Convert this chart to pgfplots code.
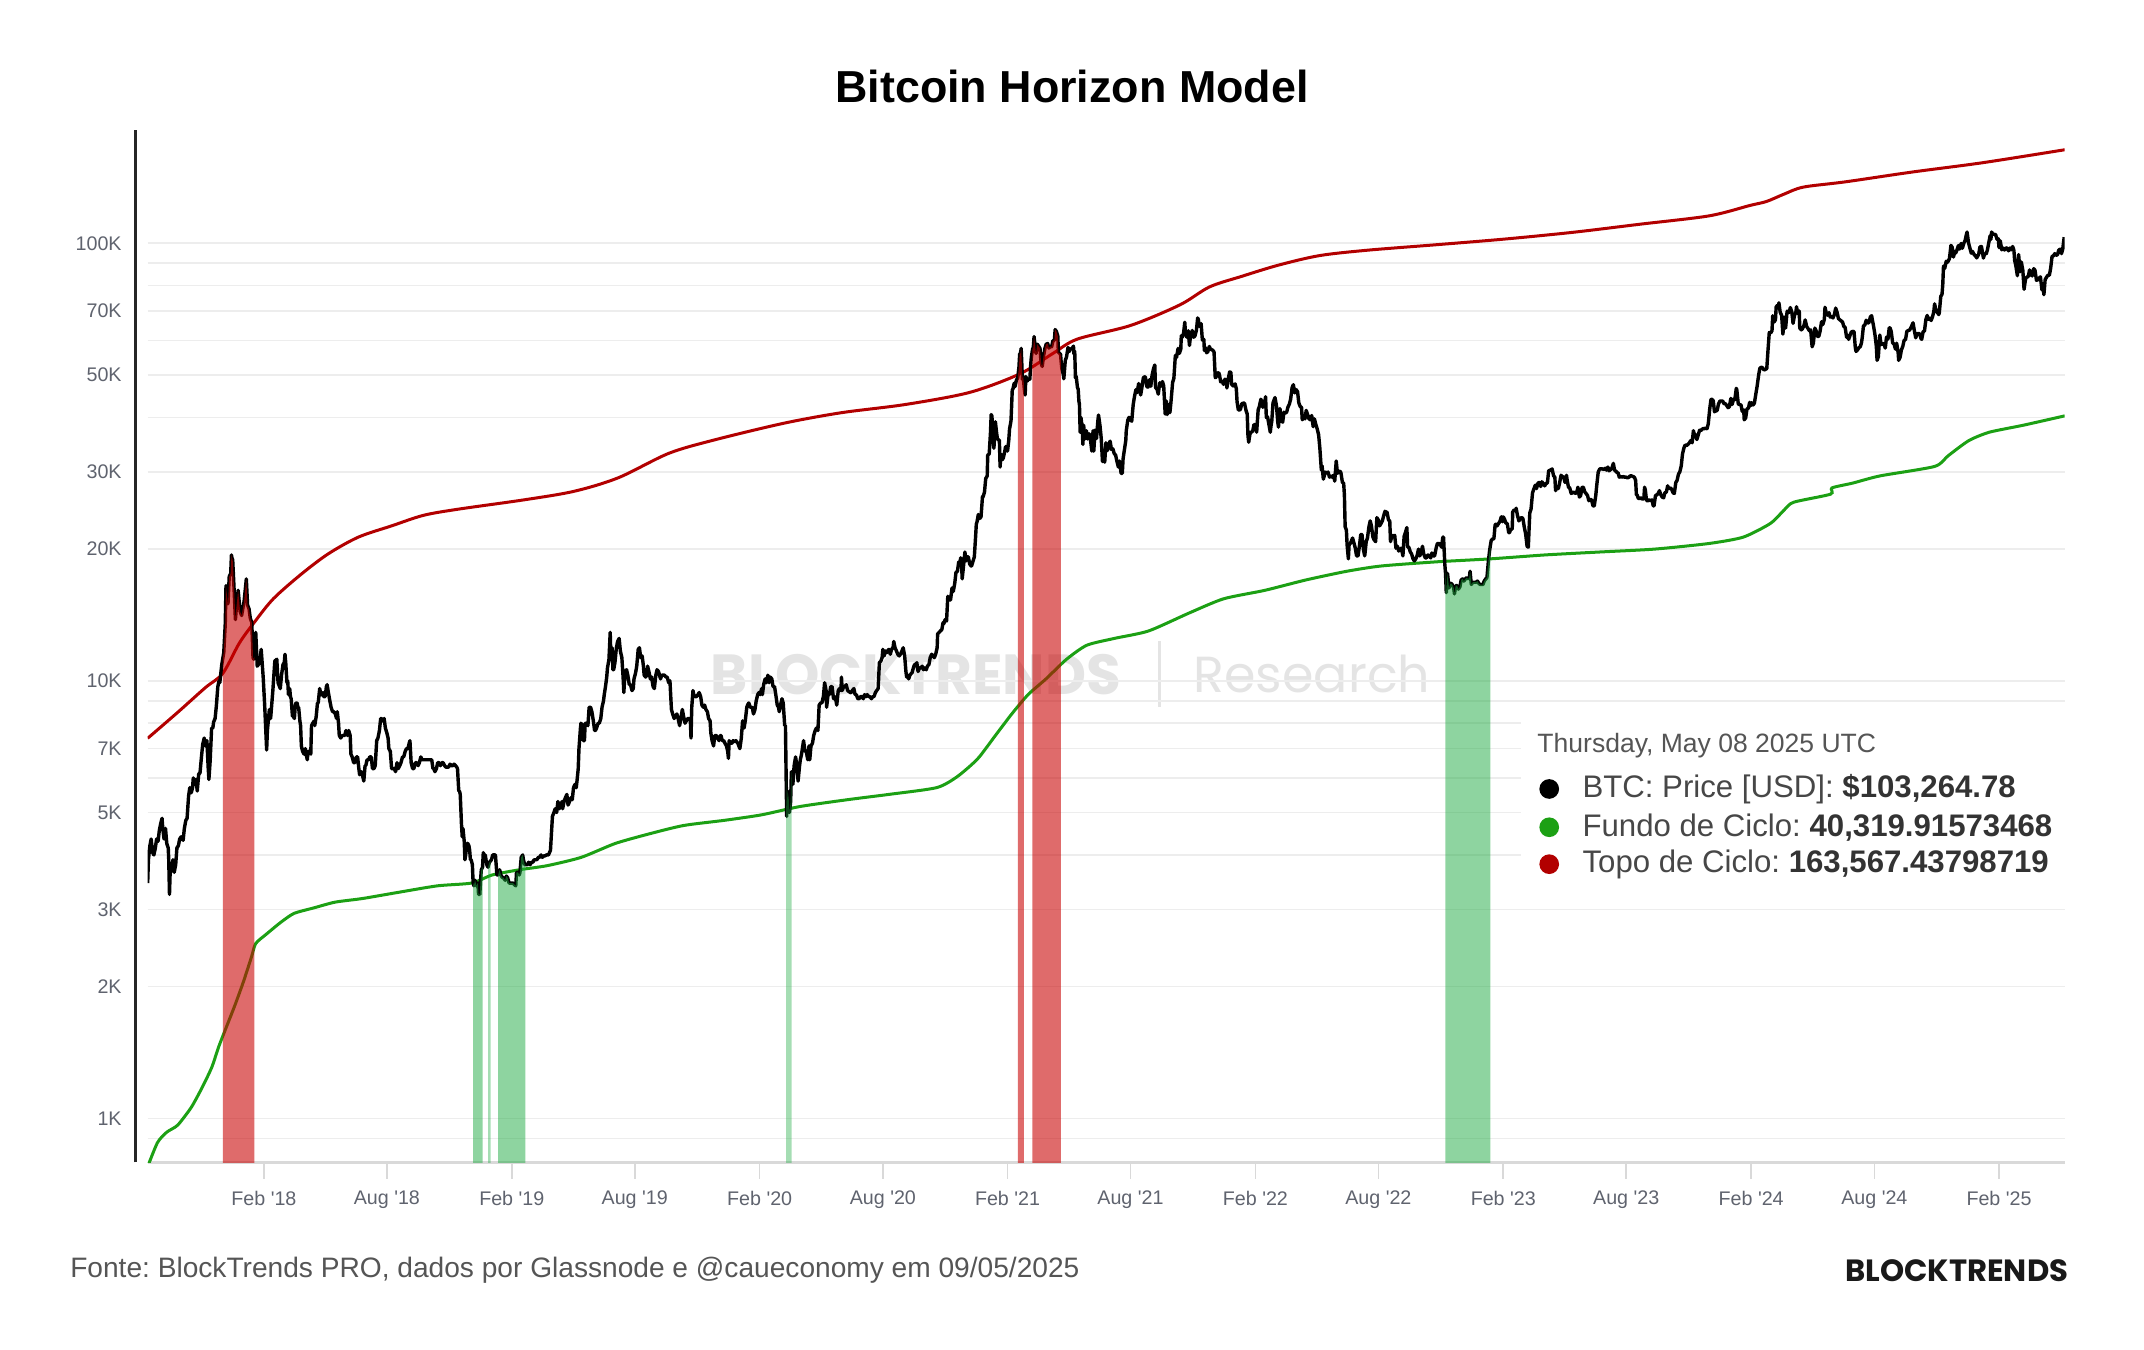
\documentclass[border=0pt]{standalone}
\usepackage{pgfplots}
\pgfplotsset{compat=1.18}
\usepackage{pgfplotstable}
\usepackage{fontspec}
\setmainfont{Liberation Sans}
\newfontfamily\pop{Poppins}
\frenchspacing
\definecolor{tickgray}{RGB}{95,99,110}
\definecolor{foot}{RGB}{85,85,85}
\definecolor{wm}{RGB}{228,228,228}
\definecolor{topo}{RGB}{178,0,0}
\definecolor{fundo}{RGB}{28,160,20}
\definecolor{bandred}{RGB}{200,0,0}
\definecolor{bandgreen}{RGB}{30,170,65}

\pgfplotstableread{
x y
2017.616 3450
2017.619 3900
2017.625 4200
2017.630 4350
2017.636 4050
2017.641 4000
2017.647 4150
2017.652 4350
2017.658 4300
2017.663 4550
2017.668 4700
2017.674 4850
2017.677 4600
2017.682 4350
2017.688 4600
2017.693 4250
2017.699 4150
2017.701 3900
2017.704 3250
2017.707 3700
2017.712 3680
2017.718 3900
2017.723 3650
2017.729 3800
2017.734 4150
2017.740 4200
2017.745 4350
2017.751 4400
2017.759 4320
2017.764 4600
2017.770 4800
2017.775 4850
2017.781 5450
2017.786 5700
2017.792 5550
2017.797 5700
2017.800 6000
2017.806 5800
2017.811 5950
2017.816 5600
2017.822 6130
2017.827 6150
2017.833 6700
2017.838 7150
2017.844 7400
2017.849 7100
2017.855 7300
2017.860 6350
2017.863 5950
2017.868 6550
2017.874 7800
2017.879 7800
2017.882 8050
2017.888 8200
2017.893 8750
2017.899 9700
2017.904 10000
2017.907 9900
2017.915 10900
2017.923 11600
2017.929 13500
2017.932 16500
2017.934 16000
2017.940 15000
2017.945 17300
2017.951 17600
2017.954 19400
2017.956 19100
2017.959 18900
2017.964 16500
2017.970 13800
2017.973 14500
2017.981 16100
2017.989 14400
2017.995 14100
2018.005 15200
2018.014 17100
2018.019 14900
2018.025 14600
2018.030 13900
2018.036 13600
2018.041 11300
2018.044 11200
2018.049 11600
2018.052 12900
2018.058 10800
2018.068 11000
2018.074 11800
2018.082 10200
2018.088 8800
2018.096 6950
2018.099 7700
2018.107 8600
2018.112 8200
2018.121 9500
2018.129 11100
2018.137 11200
2018.142 9900
2018.151 9600
2018.156 10300
2018.162 10900
2018.167 11000
2018.170 11500
2018.173 11000
2018.178 9900
2018.181 10000
2018.184 9300
2018.189 9600
2018.192 9200
2018.195 9100
2018.200 8300
2018.203 8300
2018.208 8200
2018.211 8700
2018.214 8900
2018.219 8900
2018.222 8700
2018.225 8700
2018.230 8100
2018.233 7900
2018.236 7100
2018.241 6900
2018.247 6800
2018.252 7000
2018.255 6800
2018.260 6600
2018.263 6900
2018.268 6900
2018.274 6800
2018.277 7900
2018.282 8000
2018.288 8100
2018.290 7900
2018.296 8300
2018.301 8900
2018.304 8900
2018.310 9600
2018.315 9300
2018.318 9300
2018.323 9400
2018.326 9200
2018.332 9200
2018.337 9700
2018.340 9800
2018.345 9400
2018.351 9000
2018.356 8700
2018.362 8500
2018.367 8500
2018.373 8400
2018.378 8200
2018.381 8500
2018.386 8000
2018.389 7500
2018.395 7400
2018.400 7500
2018.405 7500
2018.411 7500
2018.416 7700
2018.422 7500
2018.427 7700
2018.433 7500
2018.436 6800
2018.441 6700
2018.447 6500
2018.452 6500
2018.458 6700
2018.463 6700
2018.468 6300
2018.471 6100
2018.477 6200
2018.482 6100
2018.488 5900
2018.493 6400
2018.496 6400
2018.501 6600
2018.507 6600
2018.512 6700
2018.518 6700
2018.523 6300
2018.529 6300
2018.534 6400
2018.540 7300
2018.545 7400
2018.551 7700
2018.556 8200
2018.559 8200
2018.564 8100
2018.570 8200
2018.575 7800
2018.581 7600
2018.586 7400
2018.589 7000
2018.595 6900
2018.600 6300
2018.605 6300
2018.611 6300
2018.616 6200
2018.622 6500
2018.627 6300
2018.633 6400
2018.638 6500
2018.644 6700
2018.649 6700
2018.655 6900
2018.660 7000
2018.666 7000
2018.671 7200
2018.674 7300
2018.679 6500
2018.685 6300
2018.690 6300
2018.696 6500
2018.701 6500
2018.707 6400
2018.712 6500
2018.718 6700
2018.723 6600
2018.729 6600
2018.734 6600
2018.740 6600
2018.745 6600
2018.751 6600
2018.756 6600
2018.762 6600
2018.767 6300
2018.770 6300
2018.775 6200
2018.781 6300
2018.786 6500
2018.792 6500
2018.797 6400
2018.803 6500
2018.808 6500
2018.814 6400
2018.819 6350
2018.825 6350
2018.830 6350
2018.836 6450
2018.841 6400
2018.847 6400
2018.852 6450
2018.858 6400
2018.863 6350
2018.866 6300
2018.871 5600
2018.874 5600
2018.877 5500
2018.882 4700
2018.885 4400
2018.888 4600
2018.893 4300
2018.896 3900
2018.899 4000
2018.904 4250
2018.907 4250
2018.912 4200
2018.915 4100
2018.918 3900
2018.921 3900
2018.926 3800
2018.929 3450
2018.932 3400
2018.937 3500
2018.942 3400
2018.948 3450
2018.951 3250
2018.956 3250
2018.959 3500
2018.962 3700
2018.967 3750
2018.970 4050
2018.975 3900
2018.978 4000
2018.984 3800
2018.989 3750
2018.995 3850
2019.003 3900
2019.008 4000
2019.014 4000
2019.019 4000
2019.025 3600
2019.030 3600
2019.036 3700
2019.041 3600
2019.047 3550
2019.052 3550
2019.058 3500
2019.063 3580
2019.068 3550
2019.074 3450
2019.080 3450
2019.085 3450
2019.090 3450
2019.096 3420
2019.101 3400
2019.104 3650
2019.110 3650
2019.115 3600
2019.118 3650
2019.123 3950
2019.129 4000
2019.132 3900
2019.137 3800
2019.142 3800
2019.148 3800
2019.153 3850
2019.159 3800
2019.164 3850
2019.170 3850
2019.175 3900
2019.178 3900
2019.186 3900
2019.192 3950
2019.197 3950
2019.203 4000
2019.208 3950
2019.214 3980
2019.219 3980
2019.225 4000
2019.233 4000
2019.241 4100
2019.249 4900
2019.255 5000
2019.260 5100
2019.266 5000
2019.271 5300
2019.277 5100
2019.282 5200
2019.288 5300
2019.290 5100
2019.296 5300
2019.301 5400
2019.307 5500
2019.312 5200
2019.318 5300
2019.323 5400
2019.329 5350
2019.334 5700
2019.340 5800
2019.345 5700
2019.348 5900
2019.353 6300
2019.356 7000
2019.362 7800
2019.364 8000
2019.370 7900
2019.373 7300
2019.378 7300
2019.381 8000
2019.386 8000
2019.392 7900
2019.397 8700
2019.403 8700
2019.408 8500
2019.414 8100
2019.419 7700
2019.422 7700
2019.427 7800
2019.433 8000
2019.438 8000
2019.444 8200
2019.449 8700
2019.455 9000
2019.458 9300
2019.463 9700
2019.468 10200
2019.471 10700
2019.477 11200
2019.482 12900
2019.485 11200
2019.490 11900
2019.493 10600
2019.496 10600
2019.501 11000
2019.507 11900
2019.512 12300
2019.518 12500
2019.523 11700
2019.529 11300
2019.534 10200
2019.537 9400
2019.542 10500
2019.548 10600
2019.553 10300
2019.559 9800
2019.564 9800
2019.570 9500
2019.575 9600
2019.578 10100
2019.584 10400
2019.589 10800
2019.595 11800
2019.600 11900
2019.605 11300
2019.611 11400
2019.616 10800
2019.619 10300
2019.625 10200
2019.630 10300
2019.633 10800
2019.638 10500
2019.644 10100
2019.649 10200
2019.655 9700
2019.660 9600
2019.666 10300
2019.671 10600
2019.677 10500
2019.679 10400
2019.685 10100
2019.690 10300
2019.696 10300
2019.701 10300
2019.707 10200
2019.712 10200
2019.718 9900
2019.723 10000
2019.729 8600
2019.734 8400
2019.740 8200
2019.745 8300
2019.751 8400
2019.756 8200
2019.762 7900
2019.767 8200
2019.773 8600
2019.778 8300
2019.784 8000
2019.789 8100
2019.795 8200
2019.800 8200
2019.805 8200
2019.808 7400
2019.811 8700
2019.816 9500
2019.819 9300
2019.825 9200
2019.830 9200
2019.836 9300
2019.841 9400
2019.847 9200
2019.852 8800
2019.858 8700
2019.863 8800
2019.868 8600
2019.874 8500
2019.879 8200
2019.885 8100
2019.888 7600
2019.893 7300
2019.899 7100
2019.904 7500
2019.910 7500
2019.915 7400
2019.921 7300
2019.926 7500
2019.929 7500
2019.934 7300
2019.940 7300
2019.945 7200
2019.951 7100
2019.956 6900
2019.959 6650
2019.962 7300
2019.967 7200
2019.973 7200
2019.978 7300
2019.984 7250
2019.989 7300
2019.997 7200
2020.005 7000
2020.011 7400
2020.016 8100
2020.022 7800
2020.027 8100
2020.033 8700
2020.036 8800
2020.041 8900
2020.047 8700
2020.049 8700
2020.055 8700
2020.060 8400
2020.066 8600
2020.071 9000
2020.077 9300
2020.082 9400
2020.087 9300
2020.093 9600
2020.096 9300
2020.101 9800
2020.107 10100
2020.112 9900
2020.118 10300
2020.123 9900
2020.128 10200
2020.134 10100
2020.139 9700
2020.145 9700
2020.150 9300
2020.156 8800
2020.161 8700
2020.164 8500
2020.169 8800
2020.175 9100
2020.180 8900
2020.186 7900
2020.189 7900
2020.194 4900
2020.197 5600
2020.202 5400
2020.205 5000
2020.210 5300
2020.213 6200
2020.219 5800
2020.224 6400
2020.230 6700
2020.235 6400
2020.240 5900
2020.246 6400
2020.249 6600
2020.254 6800
2020.262 7300
2020.268 6900
2020.273 6900
2020.279 6600
2020.284 7100
2020.287 6600
2020.292 7100
2020.298 7200
2020.303 7500
2020.309 7700
2020.314 7800
2020.320 7700
2020.325 8800
2020.331 8900
2020.336 8900
2020.342 9200
2020.347 9900
2020.353 9500
2020.355 8700
2020.361 9300
2020.366 9300
2020.372 9700
2020.377 9700
2020.383 9100
2020.388 9200
2020.393 9000
2020.396 8800
2020.402 9500
2020.407 9600
2020.413 9500
2020.415 10200
2020.418 9500
2020.424 9700
2020.429 9700
2020.434 9800
2020.440 9500
2020.445 9450
2020.451 9400
2020.454 9400
2020.459 9500
2020.465 9600
2020.470 9300
2020.475 9300
2020.481 9100
2020.486 9100
2020.492 9200
2020.497 9200
2020.503 9100
2020.508 9300
2020.514 9200
2020.519 9300
2020.525 9200
2020.530 9200
2020.536 9100
2020.541 9200
2020.546 9200
2020.552 9400
2020.557 9500
2020.563 9600
2020.568 11000
2020.574 11100
2020.579 11300
2020.582 11800
2020.587 11400
2020.593 11700
2020.598 11600
2020.601 11700
2020.606 11800
2020.612 11500
2020.617 11800
2020.623 11900
2020.626 12300
2020.631 11900
2020.637 11700
2020.642 11500
2020.648 11400
2020.653 11500
2020.659 11700
2020.664 11900
2020.670 11400
2020.675 10500
2020.678 10200
2020.683 10300
2020.686 10100
2020.691 10300
2020.697 10400
2020.699 10400
2020.705 10700
2020.710 10900
2020.716 10900
2020.719 11000
2020.724 10500
2020.730 10700
2020.735 10700
2020.741 10800
2020.746 10600
2020.751 10700
2020.757 10600
2020.762 10800
2020.768 10900
2020.773 11300
2020.779 11500
2020.784 11400
2020.790 11300
2020.795 11500
2020.801 11900
2020.803 12800
2020.809 12900
2020.814 13000
2020.820 13100
2020.825 13600
2020.828 13500
2020.833 13800
2020.839 13700
2020.844 15600
2020.850 15300
2020.855 15300
2020.861 16300
2020.866 16000
2020.872 16700
2020.877 17700
2020.883 17800
2020.888 18700
2020.891 18400
2020.896 19100
2020.899 18800
2020.902 17100
2020.907 18200
2020.913 19700
2020.918 18800
2020.921 19200
2020.927 19200
2020.932 18500
2020.938 18300
2020.940 18300
2020.946 18800
2020.951 19200
2020.956 21300
2020.959 22800
2020.962 23100
2020.967 24000
2020.973 23500
2020.978 23700
2020.984 26400
2020.986 26300
2020.992 27000
2020.997 29000
2021.003 29400
2021.005 32800
2021.011 33000
2021.016 36800
2021.019 40600
2021.022 40300
2021.027 35500
2021.030 34000
2021.036 39100
2021.041 36800
2021.044 35800
2021.049 35500
2021.052 35500
2021.055 30800
2021.058 33000
2021.063 32000
2021.068 32300
2021.074 33500
2021.077 34300
2021.082 34300
2021.085 33500
2021.090 35500
2021.093 37600
2021.099 39300
2021.104 46200
2021.107 46500
2021.112 47900
2021.115 47000
2021.121 48700
2021.126 49200
2021.131 52100
2021.134 55900
2021.137 56000
2021.140 57500
2021.142 54000
2021.145 48800
2021.148 49700
2021.153 46300
2021.156 45000
2021.159 49600
2021.164 48400
2021.170 49000
2021.175 48900
2021.178 52400
2021.181 54900
2021.186 57300
2021.189 57800
2021.192 61200
2021.195 59000
2021.200 56000
2021.205 58800
2021.211 58100
2021.216 57500
2021.219 54500
2021.222 52800
2021.225 52300
2021.230 55100
2021.236 57600
2021.241 58800
2021.247 59000
2021.252 57600
2021.258 58100
2021.263 58000
2021.268 59900
2021.274 60000
2021.277 63500
2021.282 62900
2021.288 61300
2021.290 56200
2021.293 56200
2021.299 55700
2021.301 53800
2021.304 51700
2021.310 50100
2021.312 49000
2021.318 54000
2021.323 55000
2021.329 57800
2021.334 56600
2021.340 57400
2021.345 57400
2021.351 58200
2021.353 55800
2021.356 56700
2021.359 49200
2021.362 49700
2021.367 46800
2021.370 46400
2021.373 43500
2021.375 42900
2021.378 37000
2021.381 40000
2021.386 38000
2021.389 34700
2021.392 38400
2021.397 35700
2021.403 37300
2021.408 35700
2021.414 36700
2021.419 35800
2021.425 33500
2021.430 37300
2021.433 33500
2021.438 37400
2021.444 35800
2021.449 39100
2021.452 40500
2021.458 38300
2021.463 35800
2021.468 31700
2021.471 32500
2021.477 31600
2021.482 35000
2021.488 33600
2021.493 34700
2021.499 35300
2021.504 33800
2021.510 33900
2021.515 33100
2021.521 32800
2021.526 31800
2021.532 30800
2021.537 31800
2021.543 29800
2021.548 29800
2021.551 32100
2021.556 33600
2021.562 35400
2021.564 37300
2021.570 39400
2021.575 40000
2021.581 39500
2021.586 39200
2021.592 42800
2021.597 44600
2021.603 46300
2021.608 45600
2021.614 47800
2021.616 47000
2021.622 45000
2021.627 46800
2021.633 49300
2021.638 49500
2021.641 49500
2021.647 47000
2021.652 46900
2021.658 48800
2021.663 47100
2021.668 49900
2021.674 51700
2021.679 52700
2021.682 46800
2021.688 46400
2021.693 45200
2021.699 48000
2021.704 47100
2021.710 48300
2021.715 47200
2021.721 40700
2021.726 43600
2021.729 40600
2021.734 42800
2021.740 41000
2021.745 43800
2021.751 48100
2021.756 49100
2021.762 55400
2021.767 54900
2021.773 57500
2021.778 56000
2021.784 57300
2021.786 61500
2021.789 60900
2021.795 62200
2021.800 66000
2021.803 62200
2021.808 61000
2021.814 63100
2021.819 58400
2021.822 60600
2021.825 61300
2021.830 63200
2021.836 61000
2021.841 61400
2021.847 63300
2021.852 67500
2021.855 66900
2021.858 65000
2021.863 64400
2021.866 65500
2021.871 60100
2021.877 60300
2021.879 56900
2021.885 57600
2021.888 56200
2021.893 56500
2021.899 58100
2021.904 57200
2021.907 57200
2021.912 57000
2021.918 56500
2021.923 49300
2021.926 49400
2021.932 50500
2021.937 50600
2021.940 50000
2021.945 48200
2021.951 48400
2021.956 47600
2021.962 48900
2021.967 48600
2021.970 46700
2021.975 48900
2021.981 50800
2021.986 50700
2021.989 47600
2021.995 47200
2022.003 47700
2022.008 46500
2022.011 43400
2022.016 41600
2022.022 41600
2022.025 41800
2022.030 43000
2022.036 43100
2022.041 43100
2022.047 41500
2022.052 40700
2022.055 36300
2022.058 35100
2022.063 36700
2022.068 37000
2022.074 37200
2022.079 38500
2022.085 38500
2022.090 37000
2022.096 41600
2022.101 42400
2022.107 44000
2022.110 43600
2022.115 42200
2022.121 42600
2022.126 44600
2022.129 40000
2022.134 40100
2022.140 38400
2022.145 37000
2022.148 38300
2022.151 39200
2022.156 43200
2022.164 44400
2022.170 42500
2022.175 39100
2022.178 38000
2022.184 41900
2022.189 39400
2022.195 39000
2022.200 41100
2022.205 40900
2022.211 41100
2022.216 42200
2022.222 42900
2022.227 44000
2022.233 46800
2022.238 47500
2022.244 45500
2022.249 46300
2022.255 45800
2022.260 43200
2022.266 42300
2022.271 42200
2022.274 39500
2022.279 40100
2022.285 39700
2022.290 41500
2022.296 40500
2022.301 39700
2022.307 39500
2022.312 40400
2022.318 38100
2022.323 39700
2022.329 38500
2022.334 37700
2022.340 36500
2022.345 34000
2022.351 30300
2022.354 31000
2022.359 28900
2022.362 29300
2022.367 30000
2022.373 29800
2022.378 30000
2022.384 29200
2022.389 29400
2022.395 29200
2022.400 29500
2022.405 28600
2022.411 31800
2022.416 29800
2022.422 30100
2022.427 30100
2022.430 29900
2022.436 28400
2022.441 28300
2022.444 26600
2022.447 22500
2022.452 22100
2022.455 20400
2022.460 19000
2022.463 20500
2022.468 20600
2022.474 21000
2022.477 21200
2022.482 20700
2022.488 20100
2022.493 19300
2022.499 19300
2022.504 20200
2022.510 21600
2022.515 21600
2022.521 19900
2022.526 19300
2022.532 20800
2022.537 21200
2022.543 22500
2022.548 23200
2022.553 22600
2022.559 21300
2022.564 21000
2022.570 20800
2022.575 23600
2022.581 23300
2022.586 22600
2022.592 22900
2022.597 23200
2022.603 23900
2022.608 24400
2022.614 24300
2022.616 24300
2022.622 23300
2022.627 23200
2022.630 20800
2022.636 21500
2022.641 21400
2022.647 21500
2022.652 20100
2022.658 20300
2022.663 19800
2022.669 20000
2022.674 20100
2022.680 19300
2022.685 21400
2022.690 21800
2022.696 22400
2022.699 20200
2022.704 20200
2022.710 19700
2022.715 19500
2022.721 19000
2022.726 18800
2022.732 19000
2022.737 19300
2022.743 20000
2022.748 19300
2022.753 19600
2022.759 20300
2022.764 19500
2022.770 19100
2022.775 19100
2022.781 19400
2022.786 19300
2022.792 19100
2022.797 19600
2022.803 19300
2022.808 19300
2022.814 20100
2022.819 20600
2022.825 20600
2022.830 20500
2022.836 20200
2022.841 21300
2022.844 21300
2022.849 18500
2022.852 17600
2022.855 15900
2022.860 17600
2022.866 16300
2022.870 16600
2022.874 16700
2022.879 16600
2022.885 16300
2022.888 15800
2022.893 16500
2022.899 16500
2022.904 16200
2022.910 16400
2022.915 17000
2022.921 17100
2022.926 16900
2022.932 17100
2022.937 17200
2022.943 17100
2022.948 17200
2022.951 17800
2022.956 16600
2022.962 16800
2022.967 16800
2022.970 16800
2022.975 16800
2022.981 16900
2022.986 16700
2022.992 16600
2022.995 16600
2023.003 16600
2023.008 16900
2023.014 17100
2023.019 17200
2023.025 18800
2023.030 19900
2023.036 20900
2023.041 21100
2023.047 21100
2023.052 22700
2023.055 22800
2023.060 22600
2023.066 22900
2023.071 23100
2023.077 23700
2023.082 23100
2023.085 23700
2023.090 23400
2023.096 22900
2023.101 22900
2023.107 21800
2023.110 21800
2023.115 22200
2023.121 22200
2023.123 24300
2023.129 24600
2023.134 24500
2023.137 24800
2023.142 23900
2023.148 23200
2023.153 23500
2023.159 23600
2023.164 23500
2023.170 22400
2023.175 21700
2023.181 20300
2023.186 20200
2023.189 22200
2023.192 24200
2023.197 24700
2023.203 26900
2023.208 27400
2023.214 28000
2023.219 27500
2023.225 28300
2023.230 28400
2023.236 27800
2023.241 28500
2023.247 28200
2023.252 27900
2023.258 28300
2023.263 28300
2023.268 30200
2023.274 30300
2023.279 30400
2023.282 30500
2023.288 29400
2023.293 29200
2023.296 27200
2023.301 27800
2023.307 27500
2023.312 28300
2023.318 29500
2023.323 29300
2023.329 29200
2023.334 28400
2023.340 29500
2023.342 28900
2023.348 27700
2023.353 27600
2023.359 26800
2023.364 26900
2023.370 27000
2023.375 26800
2023.381 26900
2023.386 27700
2023.392 26300
2023.397 26500
2023.403 27700
2023.408 27700
2023.414 27000
2023.419 26800
2023.425 26500
2023.430 25800
2023.436 26000
2023.441 25900
2023.447 25100
2023.452 25100
2023.458 26500
2023.463 28300
2023.468 30000
2023.474 30500
2023.479 30500
2023.485 30500
2023.490 30400
2023.496 30600
2023.501 30300
2023.507 30800
2023.512 30200
2023.518 30400
2023.523 30600
2023.529 31400
2023.534 30300
2023.540 30100
2023.545 29900
2023.548 29900
2023.553 29200
2023.559 29300
2023.564 29200
2023.570 29300
2023.575 29200
2023.581 29200
2023.586 29100
2023.592 29200
2023.597 29400
2023.603 29400
2023.608 29300
2023.614 29200
2023.619 28700
2023.622 26600
2023.625 26600
2023.630 26100
2023.636 26100
2023.641 26200
2023.647 26000
2023.652 26100
2023.655 27700
2023.658 27300
2023.663 25800
2023.669 25800
2023.674 25900
2023.680 25800
2023.685 25900
2023.690 25100
2023.693 25100
2023.699 26500
2023.704 26600
2023.710 26800
2023.715 27200
2023.721 26600
2023.726 26300
2023.732 26200
2023.737 26900
2023.743 27000
2023.748 27900
2023.753 27500
2023.759 27600
2023.764 27400
2023.770 26900
2023.775 26800
2023.781 28400
2023.786 28700
2023.792 29700
2023.797 30000
2023.803 31000
2023.808 33000
2023.814 34100
2023.819 34600
2023.825 34500
2023.830 34700
2023.836 35000
2023.841 35400
2023.847 35000
2023.852 37300
2023.855 36700
2023.860 36500
2023.866 35600
2023.871 36400
2023.877 37400
2023.882 37300
2023.885 37500
2023.890 37700
2023.896 37700
2023.901 37800
2023.907 37700
2023.912 38700
2023.918 41900
2023.923 44000
2023.926 44000
2023.932 43700
2023.937 41200
2023.943 41400
2023.948 41500
2023.953 42900
2023.959 43600
2023.964 43600
2023.970 43600
2023.975 43000
2023.981 43000
2023.986 42600
2023.992 42100
2023.997 42300
2024.003 44200
2024.008 42800
2024.014 44000
2024.019 43900
2024.025 46600
2024.027 46300
2024.033 42900
2024.038 42800
2024.044 42700
2024.049 41300
2024.055 41600
2024.057 39500
2024.063 39900
2024.068 41800
2024.074 42000
2024.079 43300
2024.082 42500
2024.087 43200
2024.093 42700
2024.098 43100
2024.104 45300
2024.109 47100
2024.115 49900
2024.120 51800
2024.126 52100
2024.131 51900
2024.137 51300
2024.142 51500
2024.148 51700
2024.153 57000
2024.158 62500
2024.164 62400
2024.169 63100
2024.172 68300
2024.178 66100
2024.183 66900
2024.186 71600
2024.191 72100
2024.194 71500
2024.197 73100
2024.202 69600
2024.208 68400
2024.213 62000
2024.219 67800
2024.224 64000
2024.230 69900
2024.232 70000
2024.238 69500
2024.243 71300
2024.249 69700
2024.254 65600
2024.260 68500
2024.265 69300
2024.268 71600
2024.273 69100
2024.279 70000
2024.281 64000
2024.287 63400
2024.292 63800
2024.298 64900
2024.303 66800
2024.309 64500
2024.314 63900
2024.320 63100
2024.325 63400
2024.328 60600
2024.331 58000
2024.336 59100
2024.342 64000
2024.347 63100
2024.352 61200
2024.358 61300
2024.363 62900
2024.369 66200
2024.374 65200
2024.380 66900
2024.383 71400
2024.388 69200
2024.393 68500
2024.399 69400
2024.404 67800
2024.410 68000
2024.415 67500
2024.421 68800
2024.426 71100
2024.432 69400
2024.437 67300
2024.443 66800
2024.448 66500
2024.454 66000
2024.459 64500
2024.464 64300
2024.470 61000
2024.475 61500
2024.478 60300
2024.484 61600
2024.489 62700
2024.495 62900
2024.500 62800
2024.505 57900
2024.508 56600
2024.514 57000
2024.519 57700
2024.525 58000
2024.530 59200
2024.533 60800
2024.538 64700
2024.544 65100
2024.549 66700
2024.555 65800
2024.560 65800
2024.566 67900
2024.571 68300
2024.574 66800
2024.579 64600
2024.585 61500
2024.590 58100
2024.593 54000
2024.598 55000
2024.604 61700
2024.609 58700
2024.615 58900
2024.620 59000
2024.626 57600
2024.631 61000
2024.637 60400
2024.642 64100
2024.645 64100
2024.650 62900
2024.656 59100
2024.661 59000
2024.667 57300
2024.672 59100
2024.678 56200
2024.680 54000
2024.686 54900
2024.691 57000
2024.697 58200
2024.702 60000
2024.708 60300
2024.713 62900
2024.719 63200
2024.724 63300
2024.730 64200
2024.735 65200
2024.738 65800
2024.743 63300
2024.749 60800
2024.754 62100
2024.760 62200
2024.765 62100
2024.770 60600
2024.773 60300
2024.779 62900
2024.784 62900
2024.790 67000
2024.795 68400
2024.800 67000
2024.806 67400
2024.811 66600
2024.817 68000
2024.822 69900
2024.825 72700
2024.831 70200
2024.836 69500
2024.842 68700
2024.844 69400
2024.850 75600
2024.855 76500
2024.858 80500
2024.861 88700
2024.866 87600
2024.872 91000
2024.877 90500
2024.880 91000
2024.885 92300
2024.891 98900
2024.896 97900
2024.901 93000
2024.907 95800
2024.910 95000
2024.915 96400
2024.921 98800
2024.926 97000
2024.932 99900
2024.937 97400
2024.943 100000
2024.948 101400
2024.953 104500
2024.956 106100
2024.962 100200
2024.967 97700
2024.973 94900
2024.978 95800
2024.984 94300
2024.989 93700
2024.995 92600
2025.003 94400
2025.008 98100
2025.014 98300
2025.016 96900
2025.022 92500
2025.027 94700
2025.033 94500
2025.038 96500
2025.044 100500
2025.049 104100
2025.052 102000
2025.055 106100
2025.060 104900
2025.066 104800
2025.071 104700
2025.077 102100
2025.082 102400
2025.085 97700
2025.090 101300
2025.096 96600
2025.101 97500
2025.107 96500
2025.112 97400
2025.118 97600
2025.123 96100
2025.129 97500
2025.134 96600
2025.140 98300
2025.145 96300
2025.148 91400
2025.153 88700
2025.159 84300
2025.164 94200
2025.170 86100
2025.175 90600
2025.181 86700
2025.186 78500
2025.192 82900
2025.197 83700
2025.203 83900
2025.208 86900
2025.214 85200
2025.219 84200
2025.225 87500
2025.230 86800
2025.236 82300
2025.241 82500
2025.247 83200
2025.252 83800
2025.258 78300
2025.263 79200
2025.266 76300
2025.271 82600
2025.277 83700
2025.282 84500
2025.288 84500
2025.293 87500
2025.299 93400
2025.304 93500
2025.310 94700
2025.315 93800
2025.321 94200
2025.326 96500
2025.332 96900
2025.337 94700
2025.342 97000
2025.348 103265
}\price

\pgfplotstableread{
x y
2017.616 7390
2017.737 8470
2017.848 9640
2017.919 10400
2017.986 12200
2018.046 13600
2018.123 15400
2018.234 17500
2018.344 19500
2018.466 21300
2018.600 22600
2018.730 23900
2018.874 24700
2019.131 25900
2019.335 27100
2019.514 29100
2019.718 33100
2019.900 35500
2020.183 38800
2020.415 41000
2020.672 42800
2020.931 45600
2021.135 50300
2021.268 56000
2021.367 60400
2021.582 64900
2021.780 72300
2021.900 79500
2022.029 84000
2022.177 89100
2022.343 93700
2022.536 96400
2022.812 99200
2023.088 102200
2023.364 105900
2023.640 110600
2023.915 115500
2024.080 122000
2024.147 124600
2024.219 129600
2024.296 134400
2024.467 138200
2024.732 145400
2025.019 152800
2025.350 163567
}\topo

\pgfplotstableread{
x y
2017.610 760
2017.655 879
2017.693 930
2017.737 965
2017.792 1060
2017.837 1180
2017.875 1310
2017.903 1460
2017.936 1630
2017.969 1820
2018.002 2050
2018.035 2340
2018.052 2510
2018.096 2640
2018.151 2800
2018.206 2940
2018.289 3030
2018.372 3120
2018.482 3180
2018.620 3280
2018.785 3400
2018.923 3450
2019.006 3600
2019.116 3700
2019.227 3780
2019.365 3950
2019.503 4250
2019.640 4470
2019.778 4670
2019.944 4800
2020.093 4940
2020.247 5160
2020.440 5350
2020.606 5500
2020.799 5700
2020.882 6040
2020.964 6630
2021.036 7500
2021.102 8400
2021.168 9300
2021.240 10100
2021.323 11200
2021.405 12060
2021.516 12500
2021.654 13000
2021.819 14300
2021.957 15400
2022.123 16100
2022.288 17000
2022.454 17800
2022.592 18300
2022.812 18700
2023.033 19000
2023.254 19400
2023.474 19700
2023.695 20000
2023.915 20600
2024.053 21300
2024.163 22900
2024.219 24600
2024.257 25600
2024.405 26700
2024.411 27600
2024.494 28300
2024.605 29400
2024.825 30900
2024.880 32700
2024.963 35400
2025.046 37000
2025.184 38400
2025.350 40320
}\fundo

\begin{document}
\begin{tikzpicture}[x=1pt,y=1pt]
\useasboundingbox (0,0) rectangle (784,493.5);
% watermark
\node[text=wm, inner sep=0] at (335,247) {\resizebox{150pt}{!}{\pop\bfseries BLOCKTRENDS}};
\draw[wm, line width=0.8pt] (424,235) -- (424,259);
\node[text=wm, inner sep=0] at (479.75,247) {\resizebox{86.5pt}{!}{\pop Research}};

\begin{axis}[
  at={(54pt,68.5pt)}, anchor=south west,
  scale only axis, width=701pt, height=377.5pt,
  xmin=2017.616, xmax=2025.35,
  ymode=log, ymin=794, ymax=181600,
  xtick={2018.085,2018.581,2019.085,2019.581,2020.085,2020.582,2021.085,2021.581,2022.085,2022.581,2023.085,2023.581,2024.085,2024.582,2025.085},
  xticklabels={Feb \textquotesingle18,Aug \textquotesingle18,Feb \textquotesingle19,Aug \textquotesingle19,Feb \textquotesingle20,Aug \textquotesingle20,Feb \textquotesingle21,Aug \textquotesingle21,Feb \textquotesingle22,Aug \textquotesingle22,Feb \textquotesingle23,Aug \textquotesingle23,Feb \textquotesingle24,Aug \textquotesingle24,Feb \textquotesingle25},
  ytick={900,1000,2000,3000,4000,5000,6000,7000,8000,9000,10000,20000,30000,40000,50000,60000,70000,80000,90000,100000},
  yticklabels={,1K,2K,3K,,5K,,7K,,,10K,20K,30K,,50K,,70K,,,100K},
  yminorticks=false, xminorticks=false,
  ymajorgrids, major grid style={color=black!7, line width=0.6pt},
  axis x line*=bottom, axis y line*=left,
  y axis line style={draw=none},
  x axis line style={draw=black!15, line width=1.2pt},
  xtick align=outside, major tick length=6pt,
  xtick style={draw=black!15, line width=0.6pt},
  ytick style={draw=none},
  tick label style={font=\fontsize{7.2}{8}\selectfont, text=tickgray},
  yticklabel style={xshift=-6pt},
  xticklabel style={yshift=-1pt},
  /pgf/number format/assume math mode=true,
]
\addplot[topo, line width=1.1pt, smooth, tension=0.5] table {\topo};
\addplot[fundo, line width=1.1pt, smooth, tension=0.4] table {\fundo};
\addplot[black, line width=1.25pt, line join=round] table {\price};
% bands (price above Topo / below Fundo)
\addplot[draw=none, fill=bandred, fill opacity=0.58] coordinates {
(2017.919,100) (2017.919,11250) (2017.923,11600) (2017.929,13500) (2017.932,16500) (2017.934,16000) (2017.940,15000) (2017.945,17300) (2017.951,17600) (2017.954,19400) (2017.956,19100) (2017.959,18900) (2017.964,16500) (2017.970,13800) (2017.973,14500) (2017.981,16100) (2017.989,14400) (2017.995,14100) (2018.005,15200) (2018.014,17100) (2018.019,14900) (2018.025,14600) (2018.030,13900) (2018.036,13600) (2018.041,11300) (2018.044,11200) (2018.046,11350) (2018.046,100)} -- cycle;
\addplot[draw=none, fill=bandgreen, fill opacity=0.5] coordinates {
(2018.929,100) (2018.929,3450) (2018.932,3400) (2018.937,3500) (2018.942,3400) (2018.948,3450) (2018.951,3250) (2018.956,3250) (2018.959,3500) (2018.962,3700) (2018.967,3750) (2018.967,100)} -- cycle;
\addplot[draw=none, fill=bandgreen, fill opacity=0.4] coordinates {
(2018.989,100) (2018.989,3750) (2018.995,3850) (2019.0,3870) (2019.0,100)} -- cycle;
\addplot[draw=none, fill=bandgreen, fill opacity=0.5] coordinates {
(2019.030,100) (2019.030,3600) (2019.036,3700) (2019.041,3600) (2019.047,3550) (2019.052,3550) (2019.058,3500) (2019.063,3580) (2019.068,3550) (2019.074,3450) (2019.080,3450) (2019.085,3450) (2019.090,3450) (2019.096,3420) (2019.101,3400) (2019.104,3650) (2019.110,3650) (2019.115,3600) (2019.118,3650) (2019.123,3950) (2019.129,4000) (2019.132,3900) (2019.137,3800) (2019.140,3800) (2019.140,100)} -- cycle;
\addplot[draw=none, fill=bandgreen, fill opacity=0.4] coordinates {
(2020.192,100) (2020.192,6100) (2020.194,4900) (2020.197,5600) (2020.202,5400) (2020.205,5000) (2020.210,5300) (2020.213,6200) (2020.214,6130) (2020.214,100)} -- cycle;
\addplot[draw=none, fill=bandred, fill opacity=0.58] coordinates {
(2021.127,100) (2021.127,49800) (2021.131,52100) (2021.134,55900) (2021.137,56000) (2021.140,57500) (2021.142,54000) (2021.145,48800) (2021.148,49700) (2021.151,47700) (2021.151,100)} -- cycle;
\addplot[draw=none, fill=bandred, fill opacity=0.58] coordinates {
(2021.185,100) (2021.185,56800) (2021.186,57300) (2021.189,57800) (2021.192,61200) (2021.195,59000) (2021.200,56000) (2021.205,58800) (2021.211,58100) (2021.216,57500) (2021.219,54500) (2021.222,52800) (2021.225,52300) (2021.230,55100) (2021.236,57600) (2021.241,58800) (2021.247,59000) (2021.252,57600) (2021.258,58100) (2021.263,58000) (2021.268,59900) (2021.274,60000) (2021.277,63500) (2021.282,62900) (2021.288,61300) (2021.290,56200) (2021.293,56200) (2021.299,55700) (2021.300,55000) (2021.300,100)} -- cycle;
\addplot[draw=none, fill=bandgreen, fill opacity=0.5] coordinates {
(2022.851,100) (2022.851,17900) (2022.852,17600) (2022.855,15900) (2022.860,17600) (2022.866,16300) (2022.870,16600) (2022.874,16700) (2022.879,16600) (2022.885,16300) (2022.888,15800) (2022.893,16500) (2022.899,16500) (2022.904,16200) (2022.910,16400) (2022.915,17000) (2022.921,17100) (2022.926,16900) (2022.932,17100) (2022.937,17200) (2022.943,17100) (2022.948,17200) (2022.951,17800) (2022.956,16600) (2022.962,16800) (2022.967,16800) (2022.970,16800) (2022.975,16800) (2022.981,16900) (2022.986,16700) (2022.992,16600) (2022.995,16600) (2023.003,16600) (2023.008,16900) (2023.014,17100) (2023.019,17200) (2023.025,18800) (2023.030,19900) (2023.033,20400) (2023.033,100)} -- cycle;
\end{axis}

% left axis bar
\draw[line width=1.2pt, color=black!85] (49.5,68.5) -- (49.5,446);

% title
\node[inner sep=0, text=black] at (392,462) {\resizebox{173pt}{!}{\bfseries Bitcoin Horizon Model}};

% tooltip legend
\fill[white] (556,166) rectangle (757,231.5);
\node[anchor=west, inner sep=0, text=foot, font=\fontsize{9.7}{11}\selectfont] at (562,221) {Thursday, May 08 2025 UTC};
\fill[black] (566.5,205) circle (3.6);
\fill[fundo] (566.5,191) circle (3.6);
\fill[topo] (566.5,177.5) circle (3.6);
\node[anchor=west, inner sep=0, text=black!72, font=\fontsize{11.4}{13}\selectfont] at (578.5,205) {BTC: Price [USD]: \textbf{\color{black!80}\$103,264.78}};
\node[anchor=west, inner sep=0, text=black!72, font=\fontsize{11.4}{13}\selectfont] at (578.5,191) {Fundo de Ciclo: \textbf{\color{black!80}40,319.91573468}};
\node[anchor=west, inner sep=0, text=black!72, font=\fontsize{11.4}{13}\selectfont] at (578.5,177.5) {Topo de Ciclo: \textbf{\color{black!80}163,567.43798719}};

% footer
\node[anchor=west, inner sep=0, text=foot] at (25.5,29) {\resizebox{369pt}{!}{Fonte: BlockTrends PRO, dados por Glassnode e @caueconomy em 09/05/2025}};
\node[anchor=east, inner sep=0, text=black!90] at (756.5,29) {\resizebox{81.5pt}{!}{\pop\bfseries BLOCKTRENDS}};
\end{tikzpicture}
\end{document}
